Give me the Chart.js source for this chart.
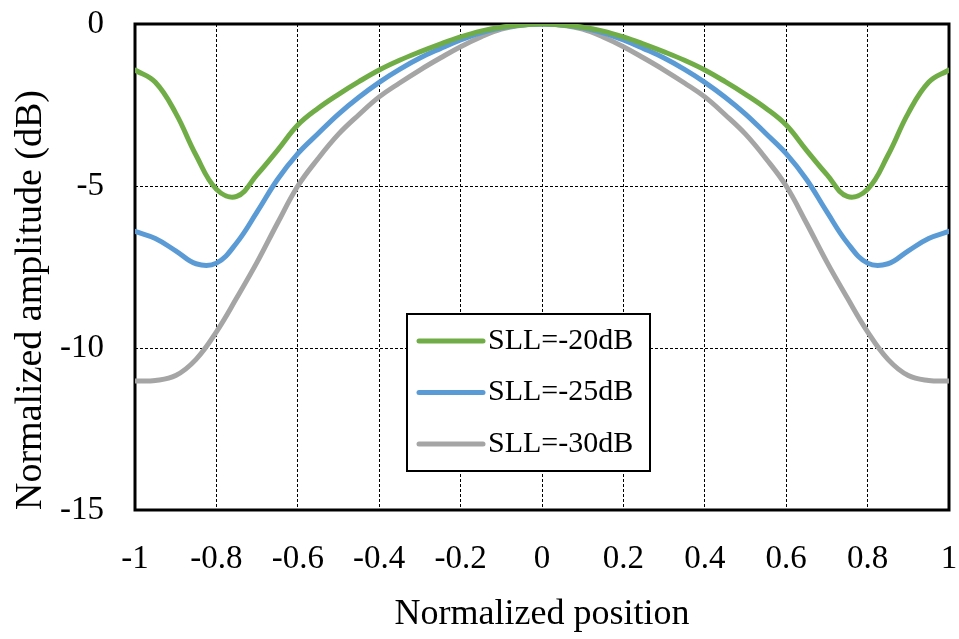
<!DOCTYPE html>
<html>
<head>
<meta charset="utf-8">
<script src="https://cdn.jsdelivr.net/npm/chart.js@4/dist/chart.umd.min.js"></script>
<style>
  html, body { margin: 0; padding: 0; background: #ffffff; }
  #wrap { width: 959px; height: 639px; position: relative; }
</style>
</head>
<body>
<div id="wrap"><canvas id="c" width="959" height="639"></canvas></div>
<script>
// ---- data ----
const positions = [-1, -0.95, -0.9, -0.85, -0.8, -0.75, -0.7, -0.65, -0.6, -0.55, -0.5, -0.45, -0.4, -0.35, -0.3, -0.25, -0.2, -0.15, -0.1, -0.05,
  0, 0.05, 0.1, 0.15, 0.2, 0.25, 0.3, 0.35, 0.4, 0.45, 0.5, 0.55, 0.6, 0.65, 0.7, 0.75, 0.8, 0.85, 0.9, 0.95, 1];

const sll20 = [-1.42, -1.8, -2.75, -4.05, -5.1, -5.32, -4.65, -3.9, -3.12, -2.6, -2.17, -1.78, -1.42, -1.12, -0.86, -0.62, -0.4, -0.22, -0.1, -0.03,
  0, -0.03, -0.1, -0.22, -0.4, -0.62, -0.86, -1.12, -1.42, -1.78, -2.17, -2.6, -3.12, -3.9, -4.65, -5.32, -5.1, -4.05, -2.75, -1.8, -1.42];

const sll25 = [-6.4, -6.62, -7.0, -7.4, -7.38, -6.75, -5.8, -4.8, -4.0, -3.38, -2.78, -2.26, -1.8, -1.4, -1.05, -0.76, -0.49, -0.27, -0.12, -0.03,
  0, -0.03, -0.12, -0.27, -0.49, -0.76, -1.05, -1.4, -1.8, -2.26, -2.78, -3.38, -4.0, -4.8, -5.8, -6.75, -7.38, -7.4, -7.0, -6.62, -6.4];

const sll30 = [-11.02, -11.0, -10.85, -10.35, -9.5, -8.45, -7.35, -6.15, -5.0, -4.15, -3.4, -2.8, -2.25, -1.82, -1.42, -1.05, -0.7, -0.4, -0.16, -0.04,
  0, -0.04, -0.16, -0.4, -0.7, -1.05, -1.42, -1.82, -2.25, -2.8, -3.4, -4.15, -5.0, -6.15, -7.35, -8.45, -9.5, -10.35, -10.85, -11.0, -11.02];

const seriesNames = ['SLL=-20dB', 'SLL=-25dB', 'SLL=-30dB'];
const xTickLabels = ['-1', '-0.8', '-0.6', '-0.4', '-0.2', '0', '0.2', '0.4', '0.6', '0.8', '1'];
const yTickLabels = ['-15', '-10', '-5', '0'];
const xTitle = 'Normalized position';
const yTitle = 'Normalized amplitude (dB)';

// ---- styles ----
const colors = ['#70AD47', '#5B9BD5', '#A5A5A5'];
const FONT = "'Liberation Serif', 'Times New Roman', serif";

function pts(vals) { return positions.map((x, i) => ({ x: x, y: vals[i] })); }

const frame = {
  id: 'frame',
  beforeDatasetsDraw(chart) {
    const { ctx, chartArea: a } = chart;
    ctx.save();
    ctx.strokeStyle = '#000';
    ctx.lineWidth = 3;
    ctx.setLineDash([]);
    ctx.strokeRect(a.left, a.top, a.right - a.left, a.bottom - a.top);
    ctx.restore();
  }
};

const boxLegend = {
  id: 'boxLegend',
  afterDatasetsDraw(chart) {
    const { ctx, chartArea: a } = chart;
    const bx = a.left + 272, by = a.top + 290, bw = 243, bh = 157;
    ctx.save();
    ctx.fillStyle = '#fff';
    ctx.fillRect(bx, by, bw, bh);
    ctx.strokeStyle = '#000';
    ctx.lineWidth = 2;
    ctx.strokeRect(bx, by, bw, bh);
    chart.data.datasets.forEach((ds, i) => {
      const cy = by + 27 + i * 51.5;
      ctx.strokeStyle = ds.borderColor;
      ctx.lineWidth = 5;
      ctx.lineCap = 'round';
      ctx.beginPath();
      ctx.moveTo(bx + 12, cy);
      ctx.lineTo(bx + 76, cy);
      ctx.stroke();
      ctx.fillStyle = '#000';
      ctx.font = '30px ' + FONT;
      ctx.textBaseline = 'middle';
      ctx.textAlign = 'left';
      ctx.fillText(ds.label, bx + 81, cy);
    });
    ctx.restore();
  }
};

new Chart(document.getElementById('c'), {
  type: 'line',
  data: {
    datasets: [
      { label: seriesNames[0], data: pts(sll20), borderColor: colors[0], backgroundColor: colors[0] },
      { label: seriesNames[1], data: pts(sll25), borderColor: colors[1], backgroundColor: colors[1] },
      { label: seriesNames[2], data: pts(sll30), borderColor: colors[2], backgroundColor: colors[2] }
    ]
  },
  options: {
    responsive: false,
    animation: false,
    layout: { padding: { left: 0, top: 24, right: 10, bottom: 0 } },
    elements: {
      point: { radius: 0, hoverRadius: 0 },
      line: { borderWidth: 5, tension: 0.4, fill: false, borderCapStyle: 'round', borderJoinStyle: 'round' }
    },
    plugins: {
      legend: { display: false },
      tooltip: { enabled: false }
    },
    scales: {
      x: {
        type: 'linear',
        min: -1, max: 1,
        afterFit(scale) { scale.height = 129; scale.paddingLeft = 0; scale.paddingRight = 0; },
        ticks: {
          stepSize: 0.2,
          autoSkip: false,
          maxRotation: 0,
          padding: 30,
          color: '#000',
          font: { family: FONT, size: 33 },
          callback: (v, i) => xTickLabels[i]
        },
        grid: { color: '#000', lineWidth: 1, drawTicks: false },
        border: { display: false, dash: [3, 2] },
        title: {
          display: true, text: xTitle, color: '#000',
          font: { family: FONT, size: 36 },
          padding: { top: 0, bottom: 3 }
        }
      },
      y: {
        type: 'linear',
        min: -15, max: 0,
        afterFit(scale) { scale.width = 135; scale.paddingTop = 0; scale.paddingBottom = 0; },
        ticks: {
          stepSize: 5,
          autoSkip: false,
          padding: 31,
          color: '#000',
          font: { family: FONT, size: 33 },
          callback: (v, i) => yTickLabels[i]
        },
        grid: { color: '#000', lineWidth: 1, drawTicks: false },
        border: { display: false, dash: [3, 2] },
        title: {
          display: true, text: yTitle, color: '#000', align: 'start',
          font: { family: FONT, size: 38 },
          padding: { top: 8, bottom: 0 }
        }
      }
    }
  },
  plugins: [frame, boxLegend]
});
</script>
</body>
</html>
